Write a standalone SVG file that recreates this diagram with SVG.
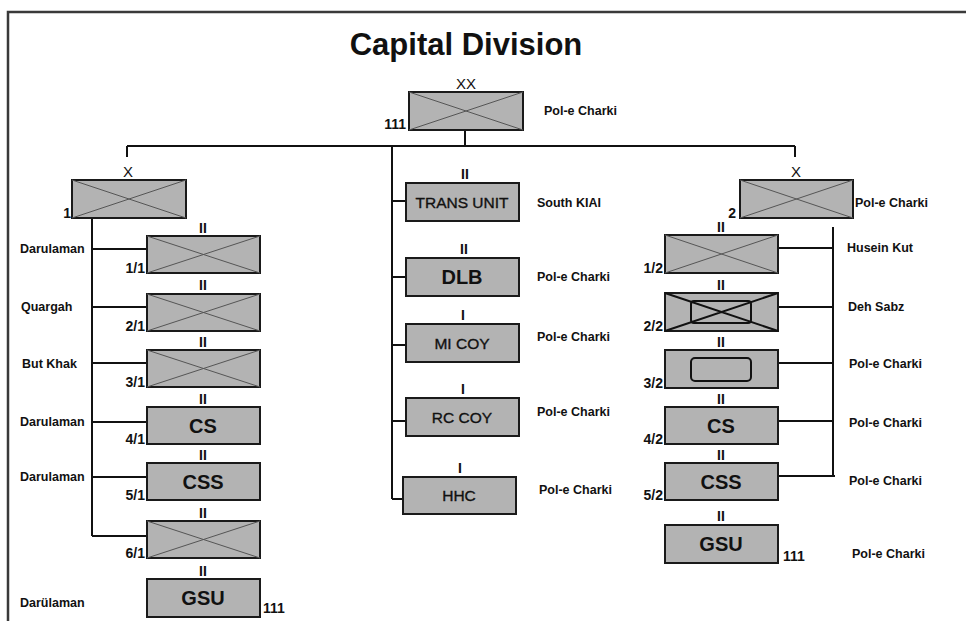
<svg xmlns="http://www.w3.org/2000/svg" width="966" height="621" viewBox="0 0 966 621">
<style>
text{font-family:"Liberation Sans",Arial,sans-serif;fill:#111}
.box{fill:#b3b3b3;stroke:#1a1a1a;stroke-width:2}
.x{stroke:#555;stroke-width:1;fill:none}
.xb{stroke:#111;stroke-width:2;fill:none}
.in{fill:none;stroke:#111;stroke-width:2}
.ln{stroke:#111;stroke-width:2;fill:none}
.loc{font-size:12.5px;font-weight:bold}
.num{font-size:14px;font-weight:bold}
.tier{font-size:14px;font-weight:bold;text-anchor:middle}
.tx{font-size:15px;text-anchor:middle}
.big{font-size:20px;font-weight:bold;text-anchor:middle}
.mid{font-size:15.5px;text-anchor:middle;stroke:#111;stroke-width:0.35}
.end{text-anchor:end}
</style>
<rect width="966" height="621" fill="#fff"/>
<path d="M8 621V12H966" fill="none" stroke="#3a3a3a" stroke-width="2.5"/>
<text x="466" y="55" font-size="31" font-weight="bold" text-anchor="middle">Capital Division</text>

<g id="connectors">
<path class="ln" d="M465 130V146M127 146H795M127 146V157M795 146V157M392 146V499"/>
<path class="ln" d="M392 201H406M392 277H406M392 345H406M392 421H406M392 499H403"/>
<path class="ln" d="M92 218V536M92 249H147M92 307H147M92 363H147M92 422H147M92 477H147M92 536H147"/>
<path class="ln" d="M833 227V476M778 248H833M778 307H833M778 363H833M778 421H833M778 476H835"/>
</g>

<g id="div">
<text class="tx" x="466" y="89">XX</text>
<rect class="box" x="409" y="92" width="114" height="38"/>
<path class="x" d="M409 92L523 130M523 92L409 130"/>
<text class="num end" x="406" y="129">111</text>
<text class="loc" x="544" y="115">Pol-e Charki</text>
</g>

<g id="bde1">
<text class="tx" x="128" y="177">X</text>
<rect class="box" x="72" y="180" width="114" height="38"/>
<path class="x" d="M72 180L186 218M186 180L72 218"/>
<text class="num end" x="71" y="218">1</text>
</g>

<g id="bn11">
<text class="tier" x="203" y="233">II</text>
<rect class="box" x="147" y="236" width="113" height="37"/>
<path class="x" d="M147 236L260 273M260 236L147 273"/>
<text class="num end" x="145" y="273">1/1</text>
<text class="loc" x="20" y="253">Darulaman</text>
</g>
<g id="bn21">
<text class="tier" x="203" y="290">II</text>
<rect class="box" x="147" y="294" width="113" height="37"/>
<path class="x" d="M147 294L260 331M260 294L147 331"/>
<text class="num end" x="145" y="331">2/1</text>
<text class="loc" x="21" y="311">Quargah</text>
</g>
<g id="bn31">
<text class="tier" x="203" y="347">II</text>
<rect class="box" x="147" y="350" width="113" height="37"/>
<path class="x" d="M147 350L260 387M260 350L147 387"/>
<text class="num end" x="145" y="387">3/1</text>
<text class="loc" x="22" y="368">But Khak</text>
</g>
<g id="cs1">
<text class="tier" x="203" y="404">II</text>
<rect class="box" x="147" y="407" width="113" height="37"/>
<text class="big" x="203" y="433">CS</text>
<text class="num end" x="145" y="444">4/1</text>
<text class="loc" x="20" y="426">Darulaman</text>
</g>
<g id="css1">
<text class="tier" x="203" y="460">II</text>
<rect class="box" x="147" y="463" width="113" height="37"/>
<text class="big" x="203" y="489">CSS</text>
<text class="num end" x="145" y="500">5/1</text>
<text class="loc" x="20" y="481">Darulaman</text>
</g>
<g id="bn61">
<text class="tier" x="203" y="518">II</text>
<rect class="box" x="147" y="521" width="113" height="37"/>
<path class="x" d="M147 521L260 558M260 521L147 558"/>
<text class="num end" x="145" y="558">6/1</text>
</g>
<g id="gsu1">
<text class="tier" x="203" y="576">II</text>
<rect class="box" x="147" y="579" width="113" height="38"/>
<text class="big" x="203" y="605">GSU</text>
<text class="num" x="263" y="613">111</text>
<text class="loc" x="20" y="607">Darülaman</text>
</g>

<g id="trans">
<text class="tier" x="465" y="179">II</text>
<rect class="box" x="406" y="183" width="113" height="38"/>
<text class="mid" x="462" y="208">TRANS UNIT</text>
<text class="loc" x="537" y="207">South KIAI</text>
</g>
<g id="dlb">
<text class="tier" x="464" y="254">II</text>
<rect class="box" x="406" y="258" width="113" height="38"/>
<text class="big" x="462" y="284">DLB</text>
<text class="loc" x="537" y="281">Pol-e Charki</text>
</g>
<g id="mi">
<text class="tier" x="463" y="320">I</text>
<rect class="box" x="406" y="324" width="113" height="38"/>
<text class="mid" x="462" y="349">MI COY</text>
<text class="loc" x="537" y="341">Pol-e Charki</text>
</g>
<g id="rc">
<text class="tier" x="463" y="394">I</text>
<rect class="box" x="406" y="398" width="113" height="38"/>
<text class="mid" x="462" y="423">RC COY</text>
<text class="loc" x="537" y="416">Pol-e Charki</text>
</g>
<g id="hhc">
<text class="tier" x="460" y="473">I</text>
<rect class="box" x="403" y="477" width="113" height="37"/>
<text class="mid" x="459" y="501">HHC</text>
<text class="loc" x="539" y="494">Pol-e Charki</text>
</g>

<g id="bde2">
<text class="tx" x="796" y="177">X</text>
<rect class="box" x="740" y="180" width="113" height="38"/>
<path class="x" d="M740 180L853 218M853 180L740 218"/>
<text class="num end" x="736" y="218">2</text>
<text class="loc" x="855" y="207">Pol-e Charki</text>
</g>
<g id="bn12">
<text class="tier" x="721" y="232">II</text>
<rect class="box" x="665" y="235" width="113" height="38"/>
<path class="x" d="M665 235L778 273M778 235L665 273"/>
<text class="num end" x="663" y="273">1/2</text>
<text class="loc" x="847" y="252">Husein Kut</text>
</g>
<g id="bn22">
<text class="tier" x="721" y="290">II</text>
<rect class="box" x="665" y="293" width="113" height="38"/>
<path class="xb" d="M665 293L778 331M778 293L665 331"/>
<rect class="in" x="691" y="301" width="60" height="22" rx="3"/>
<text class="num end" x="663" y="331">2/2</text>
<text class="loc" x="848" y="311">Deh Sabz</text>
</g>
<g id="bn32">
<text class="tier" x="721" y="347">II</text>
<rect class="box" x="665" y="350" width="113" height="38"/>
<rect class="in" x="691" y="358" width="60" height="23" rx="4"/>
<text class="num end" x="663" y="388">3/2</text>
<text class="loc" x="849" y="368">Pol-e Charki</text>
</g>
<g id="cs2">
<text class="tier" x="721" y="404">II</text>
<rect class="box" x="665" y="407" width="113" height="37"/>
<text class="big" x="721" y="433">CS</text>
<text class="num end" x="663" y="444">4/2</text>
<text class="loc" x="849" y="427">Pol-e Charki</text>
</g>
<g id="css2">
<text class="tier" x="721" y="460">II</text>
<rect class="box" x="665" y="463" width="113" height="37"/>
<text class="big" x="721" y="489">CSS</text>
<text class="num end" x="663" y="500">5/2</text>
<text class="loc" x="849" y="485">Pol-e Charki</text>
</g>
<g id="gsu2">
<text class="tier" x="721" y="521">II</text>
<rect class="box" x="665" y="525" width="113" height="38"/>
<text class="big" x="721" y="551">GSU</text>
<text class="num" x="783" y="561">111</text>
<text class="loc" x="852" y="558">Pol-e Charki</text>
</g>
</svg>
